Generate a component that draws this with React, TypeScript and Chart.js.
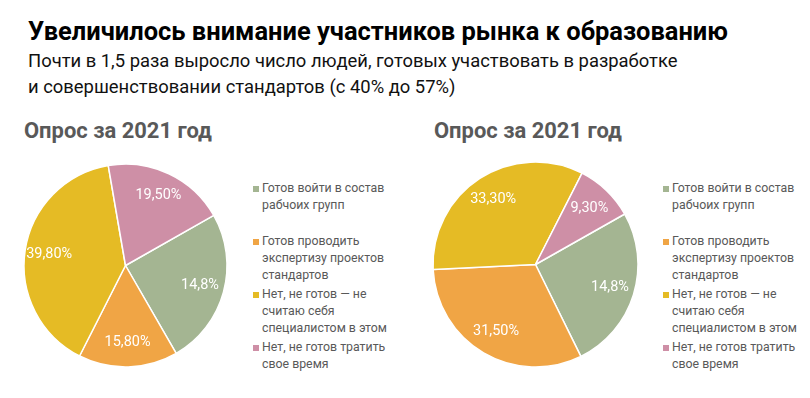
import React, { useEffect, useRef } from "react";
import { Chart, registerables } from "chart.js";

Chart.register(...registerables);

const FONT = "Roboto, 'Noto Sans', sans-serif";

const pageTitle = "Увеличилось внимание участников рынка к образованию";
const subtitleLines = [
  "Почти в 1,5 раза выросло число людей, готовых участвовать в разработке",
  "и совершенствовании стандартов (с 40% до 57%)",
];
const chartTitles = ["Опрос за 2021 год", "Опрос за 2021 год"];
const categories = [
  "Готов войти в состав рабчоих групп",
  "Готов проводить экспертизу проектов стандартов",
  "Нет, не готов — не считаю себя специалистом в этом",
  "Нет, не готов тратить свое время",
];
const legendLines = [
  ["Готов войти в состав", "рабчоих групп"],
  ["Готов проводить", "экспертизу проектов", "стандартов"],
  ["Нет, не готов — не", "считаю себя", "специалистом в этом"],
  ["Нет, не готов тратить", "свое время"],
];
const colors = ["#A4B592", "#F0A545", "#E5BB25", "#CE8FA6"];
const leftValues = [24.9, 15.8, 39.8, 19.5];
const leftLabels = ["14,8%", "15,80%", "39,80%", "19,50%"];
const rightValues = [25.9, 31.5, 33.3, 9.3];
const rightLabels = ["14,8%", "31,50%", "33,30%", "9,30%"];

function fitFont(text: string, weight: string, target: number): number {
  const c = document.createElement("canvas").getContext("2d") as CanvasRenderingContext2D;
  c.font = `${weight} 100px ${FONT}`;
  return (100 * target) / c.measureText(text).width;
}

const ASC = 0.842; // baseline offset for line-height:1 (Roboto)

function TextLine(props: {
  text: string;
  left: number;
  baseline: number;
  size: number;
  weight: string;
  color: string;
}) {
  const { text, left, baseline, size, weight, color } = props;
  return (
    <div
      style={{
        position: "absolute",
        left,
        top: baseline - ASC * size,
        fontFamily: FONT,
        fontSize: size,
        fontWeight: weight as any,
        lineHeight: 1,
        color,
        whiteSpace: "nowrap",
      }}
    >
      {text}
    </div>
  );
}

function labelPlugin(labels: string[], size: number) {
  return {
    id: "sliceLabels",
    afterDatasetsDraw(chart: any) {
      const ctx = chart.ctx as CanvasRenderingContext2D;
      const meta = chart.getDatasetMeta(0);
      meta.data.forEach((arc: any, i: number) => {
        const p = arc.getProps(["x", "y", "startAngle", "endAngle", "outerRadius"], true);
        const mid = (p.startAngle + p.endAngle) / 2;
        const r = p.outerRadius * 0.76;
        ctx.save();
        ctx.fillStyle = "#ffffff";
        ctx.font = `400 ${size}px ${FONT}`;
        ctx.textAlign = "center";
        ctx.textBaseline = "middle";
        ctx.fillText(labels[i], p.x + Math.cos(mid) * r, p.y + Math.sin(mid) * r);
        ctx.restore();
      });
    },
  };
}

function PieChart(props: {
  values: number[];
  labels: string[];
  cx: number;
  cy: number;
  radius: number;
  rotation: number;
  labelSize: number;
}) {
  const { values, labels, cx, cy, radius, rotation, labelSize } = props;
  const ref = useRef<HTMLCanvasElement>(null);
  const size = Math.round(2 * radius + 20);
  useEffect(() => {
    const chart = new Chart(ref.current as HTMLCanvasElement, {
      type: "pie",
      data: {
        labels: categories,
        datasets: [
          {
            data: values,
            backgroundColor: colors,
            borderColor: "#ffffff",
            borderWidth: 1.5,
          },
        ],
      },
      options: {
        responsive: false,
        animation: false,
        rotation,
        radius,
        events: [],
        layout: { padding: 0 },
        plugins: { legend: { display: false }, tooltip: { enabled: false } },
      } as any,
      plugins: [labelPlugin(labels, labelSize)],
    });
    return () => chart.destroy();
  }, []);
  return (
    <canvas
      ref={ref}
      width={size}
      height={size}
      style={{ position: "absolute", left: cx - size / 2, top: cy - size / 2, width: size, height: size }}
    />
  );
}

function Legend(props: { left: number; top: number; size: number }) {
  const { left, top, size } = props;
  const lineH = 16.7;
  const itemH = 53;
  const items: any[] = [];
  legendLines.forEach((lines, i) => {
    const y0 = top + i * itemH;
    items.push(
      <div
        key={"sq" + i}
        style={{
          position: "absolute",
          left,
          top: y0 - 3,
          width: 6,
          height: 6,
          background: colors[i],
        }}
      />
    );
    lines.forEach((t, j) => {
      items.push(
        <div
          key={"t" + i + "_" + j}
          style={{
            position: "absolute",
            left: left + 9,
            top: y0 + j * lineH - 0.56 * size,
            fontFamily: FONT,
            fontSize: size,
            lineHeight: 1,
            color: "#595959",
            whiteSpace: "nowrap",
          }}
        >
          {t}
        </div>
      );
    });
  });
  return <>{items}</>;
}

export default function App() {
  const titleSize = fitFont(pageTitle, "700", 700);
  const subSize = fitFont(subtitleLines[0], "400", 650);
  const chartTitleSize = fitFont(chartTitles[0], "700", 188);
  const legendSize = fitFont("специалистом в этом", "400", 125);
  const labelSize = fitFont("19,50%", "400", 46);
  return (
    <div
      style={{
        position: "absolute",
        left: 0,
        top: 0,
        width: 810,
        height: 398,
        background: "#ffffff",
        overflow: "hidden",
      }}
    >
      <TextLine text={pageTitle} left={28} baseline={40} size={titleSize} weight="700" color="#000000" />
      <TextLine text={subtitleLines[0]} left={28} baseline={68} size={subSize} weight="400" color="#111111" />
      <TextLine text={subtitleLines[1]} left={28} baseline={94} size={subSize} weight="400" color="#111111" />
      <TextLine text={chartTitles[0]} left={24} baseline={138.3} size={chartTitleSize} weight="700" color="#595959" />
      <TextLine text={chartTitles[1]} left={434} baseline={138.3} size={chartTitleSize} weight="700" color="#595959" />
      <PieChart values={leftValues} labels={leftLabels} cx={125.7} cy={265.5} radius={101.5} rotation={60.4} labelSize={labelSize} />
      <PieChart values={rightValues} labels={rightLabels} cx={535} cy={264.5} radius={102.5} rotation={60.5} labelSize={labelSize} />
      <Legend left={253} top={189.3} size={legendSize} />
      <Legend left={663} top={189.3} size={legendSize} />
    </div>
  );
}
